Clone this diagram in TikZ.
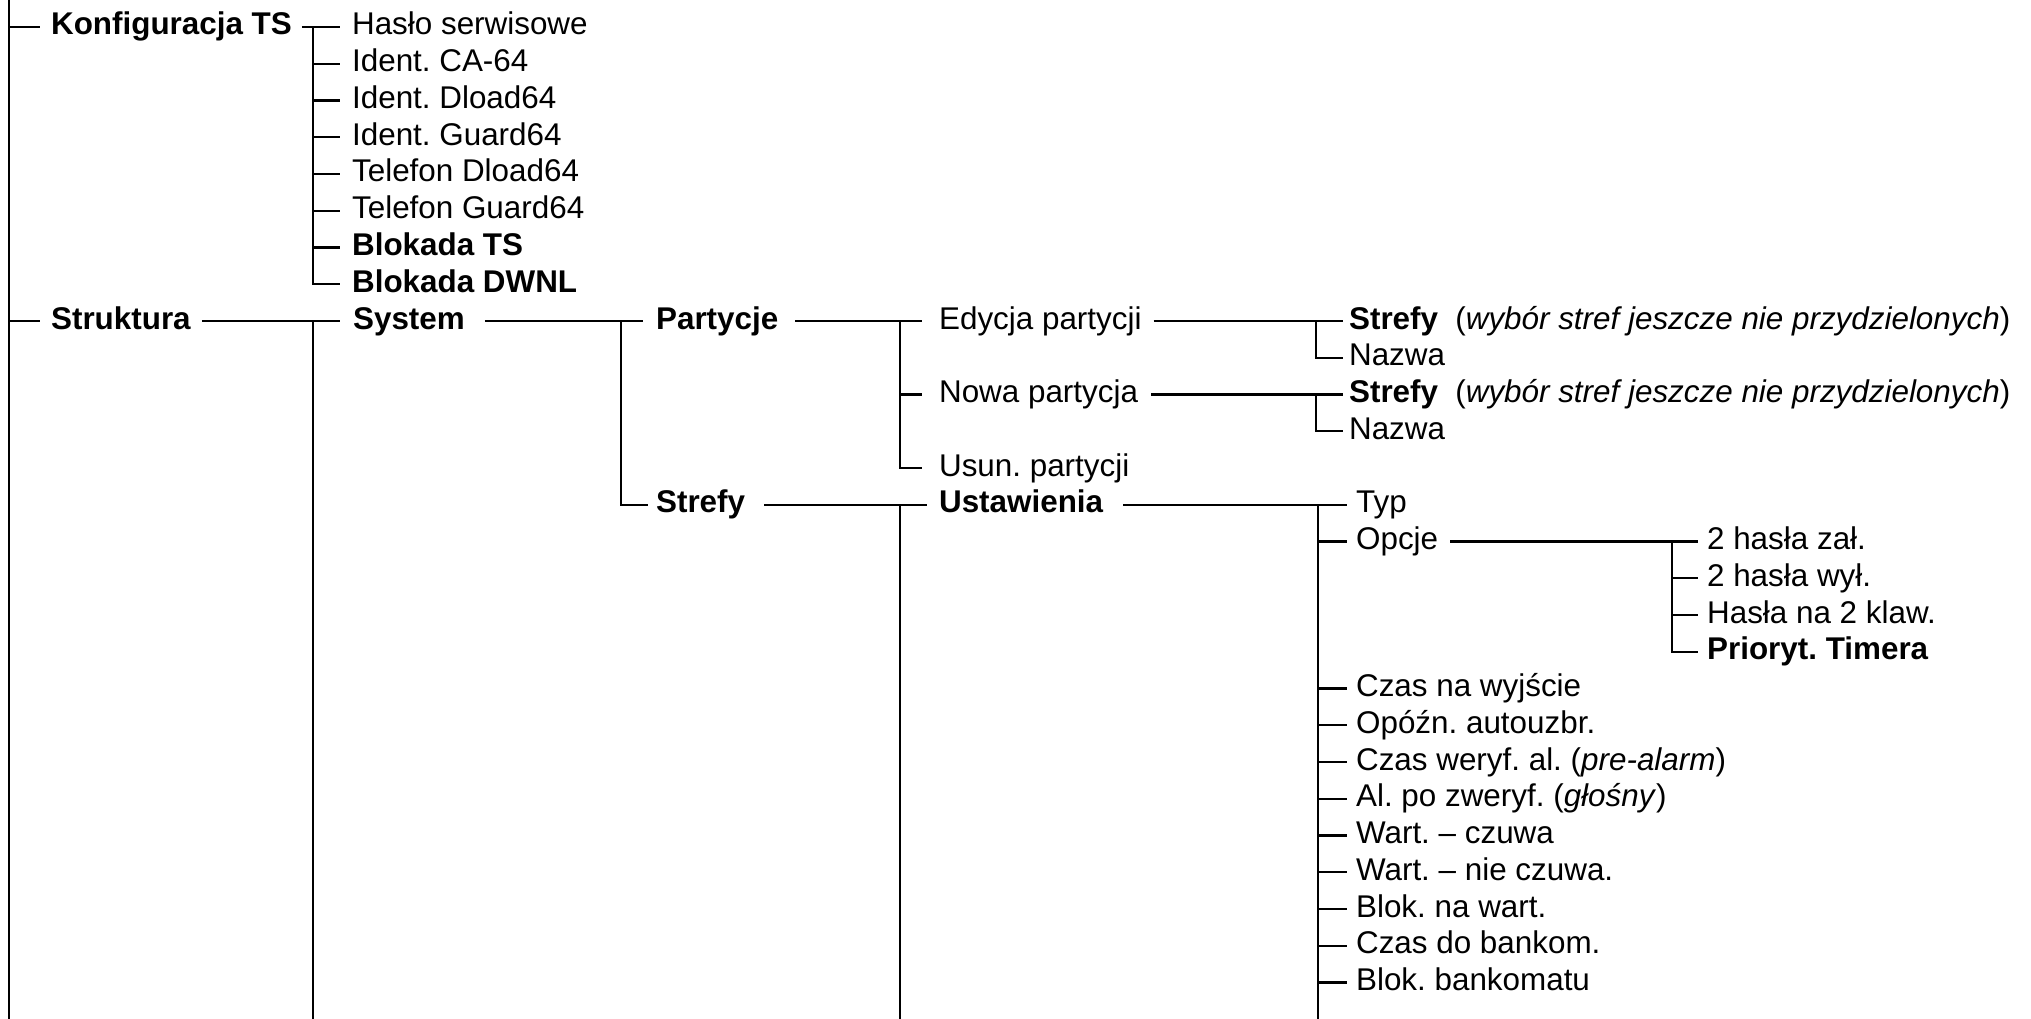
\documentclass[tikz,border=0pt]{standalone}
\usepackage{fontspec}
\setmainfont{Liberation Sans}
\frenchspacing
\newcommand{\treefont}{\fontsize{31.4pt}{37pt}\selectfont}
\begin{document}
\frenchspacing
\begin{tikzpicture}[x=1pt,y=-1pt,line width=2.2pt,
  every node/.style={inner sep=0pt,anchor=west,text height=22.5pt,text depth=6.5pt,font=\treefont},
  bnode/.style={font=\treefont\bfseries}]
\useasboundingbox (0,0) rectangle (2031,1019);
% vertical guide coordinates
\coordinate (trtop) at (9,0);
\coordinate (bot) at (9,1019);
\coordinate (v2) at (313,0);
\coordinate (v3) at (621,0);
\coordinate (v4) at (900,0);
\coordinate (v5) at (1316,0);
\coordinate (v5b) at (1318,0);
\coordinate (v6) at (1672,0);
% level 1
\node[bnode] (konf) at (50,27) {Konfiguracja TS};
\node[bnode] (strukt) at (50,321) {Struktura};
% Konfiguracja children
\node (haslo) at (351,27) {Hasło serwisowe};
\node (ca) at (351,63.75) {Ident. CA-64};
\node (dl) at (351,100.5) {Ident. Dload64};
\node (gu) at (351,137.25) {Ident. Guard64};
\node (tdl) at (351,174) {Telefon Dload64};
\node (tgu) at (351,210.75) {Telefon Guard64};
\node[bnode] (bts) at (351,247.5) {Blokada TS};
\node[bnode] (bdw) at (351,284.25) {Blokada DWNL};
% Struktura branch
\node[bnode] (sys) at (352,321) {System};
\node[bnode] (part) at (655,321) {Partycje};
\node[bnode] (strefy) at (655,504.75) {Strefy};
\node (edy) at (938,321) {Edycja partycji};
\node (nowa) at (938,394.5) {Nowa partycja};
\node (usun) at (938,468) {Usun. partycji};
\node (str1) at (1348,321) {\textbf{Strefy}\hspace{0.55em}(\textit{wybór stref jeszcze nie przydzielonych})};
\node (naz1) at (1348,357.75) {Nazwa};
\node (str2) at (1348,394.5) {\textbf{Strefy}\hspace{0.55em}(\textit{wybór stref jeszcze nie przydzielonych})};
\node (naz2) at (1348,431.25) {Nazwa};
\node[bnode] (ust) at (938,504.75) {Ustawienia};
% Ustawienia children
\node (typ) at (1355,504.75) {Typ};
\node (opcje) at (1355,541.5) {Opcje};
\node (h1) at (1706,541.5) {2 hasła zał.};
\node (h2) at (1706,578.25) {2 hasła wył.};
\node (h3) at (1706,615) {Hasła na 2 klaw.};
\node[bnode] (prior) at (1706,651.75) {Prioryt. Timera};
\node (czas) at (1355,688.5) {Czas na wyjście};
\node (opozn) at (1355,725.25) {Opóźn. autouzbr.};
\node (weryf) at (1355,762) {Czas weryf. al. (\textit{pre-alarm})};
\node (alpo) at (1355,798.75) {Al. po zweryf. (\textit{głośny})};
\node (wczu) at (1355,835.5) {Wart. – czuwa};
\node (wnczu) at (1355,872.25) {Wart. – nie czuwa.};
\node (blokw) at (1355,909) {Blok. na wart.};
\node (czasb) at (1355,945.75) {Czas do bankom.};
\node (blokb) at (1355,982.5) {Blok. bankomatu};
% trunk
\draw (trtop) -- (bot);
\draw (konf.west -| trtop) -- ([xshift=-10pt]konf.west);
\draw (strukt.west -| trtop) -- ([xshift=-10pt]strukt.west);
% Konfiguracja TS group
\draw ([xshift=9pt]konf.east) -- ([xshift=-11pt]haslo.west);
\draw (haslo.west -| v2) |- ([xshift=-11pt]bdw.west);
\foreach \n in {ca,dl,gu,tdl,tgu,bts}
  \draw (\n.west -| v2) -- ([xshift=-11pt]\n.west);
% Struktura group
\draw ([xshift=10pt]strukt.east) -- ([xshift=-12pt]sys.west);
\draw (sys.west -| v2) -- (v2 |- bot);
% System group
\draw ([xshift=19pt]sys.east) -- ([xshift=-12pt]part.west);
\draw (part.west -| v3) |- ([xshift=-7pt]strefy.west);
% Partycje group
\draw ([xshift=16pt]part.east) -- ([xshift=-16pt]edy.west);
\draw (edy.west -| v4) |- ([xshift=-16pt]usun.west);
\draw (nowa.west -| v4) -- ([xshift=-16pt]nowa.west);
% Edycja / Nowa groups
\draw ([xshift=11pt]edy.east) -- ([xshift=-5pt]str1.west);
\draw (str1.west -| v5) |- ([xshift=-5pt]naz1.west);
\draw ([xshift=12pt]nowa.east) -- ([xshift=-5pt]str2.west);
\draw (str2.west -| v5) |- ([xshift=-5pt]naz2.west);
% Strefy group
\draw ([xshift=18pt]strefy.east) -- ([xshift=-11pt]ust.west);
\draw (ust.west -| v4) -- (v4 |- bot);
% Ustawienia group
\draw ([xshift=19pt]ust.east) -- ([xshift=-8pt]typ.west);
\draw (typ.west -| v5b) -- (v5b |- bot);
\foreach \n in {opcje,czas,opozn,weryf,alpo,wczu,wnczu,blokw,czasb,blokb}
  \draw (\n.west -| v5b) -- ([xshift=-8pt]\n.west);
% Opcje group
\draw ([xshift=11pt]opcje.east) -- ([xshift=-8pt]h1.west);
\draw (h1.west -| v6) |- ([xshift=-8pt]prior.west);
\foreach \n in {h2,h3}
  \draw (\n.west -| v6) -- ([xshift=-8pt]\n.west);
\end{tikzpicture}
\end{document}
